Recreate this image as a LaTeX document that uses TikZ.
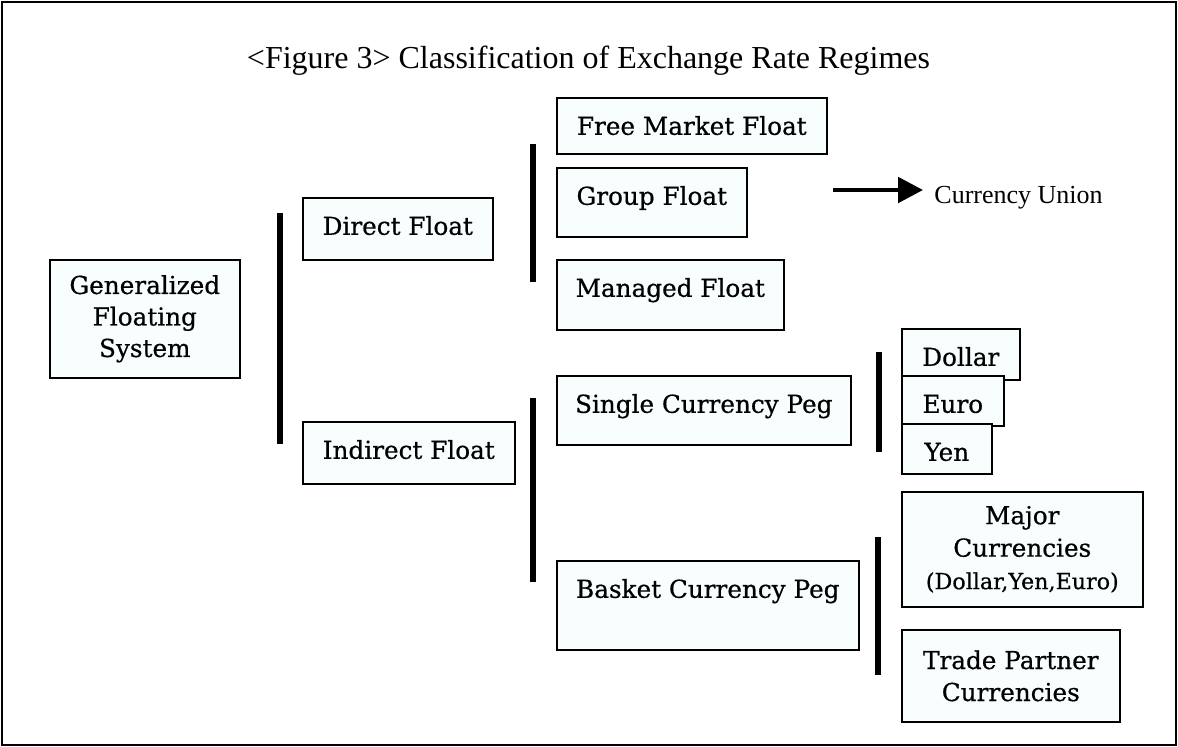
\documentclass[tikz,border=0pt]{standalone}
\usepackage{fontspec}
\setmainfont[FakeBold=0.6]{DejaVu Serif}
\newfontfamily\titlefont{Liberation Serif}
\usetikzlibrary{arrows.meta}
\definecolor{boxfill}{RGB}{248,254,254}
\tikzset{
  box/.style={draw, line width=0.8pt, fill=boxfill, anchor=north west, inner sep=0pt,
    font=\fontsize{12.35}{15.75}\selectfont},
  onebox/.style={box, text height=18.5pt, text depth=#1},
  bar/.style={line width=3pt},
}
\begin{document}
\begin{tikzpicture}[x=0.5pt, y=-0.5pt]
  \useasboundingbox (0,0) rectangle (1178,746);
  \draw[line width=0.75pt] (2,2) rectangle (1176,745);
  \node[anchor=base, font=\titlefont\fontsize{16}{19}\selectfont] (title) at (588.5,68) {<Figure 3> Classification of Exchange Rate Regimes};
  \node[box, minimum width=95pt, minimum height=59pt, align=center] (gfs) at (49,259) {Generalized\\Floating\\System};
  \node[onebox=12.5pt, minimum width=95pt, minimum height=31pt] (direct) at (302,197) {Direct Float};
  \node[onebox=12.5pt, minimum width=106pt, minimum height=31pt] (indirect) at (302,421) {Indirect Float};
  \node[onebox=9.5pt, minimum width=135pt, minimum height=28pt] (free) at (556,97) {Free Market Float};
  \node[onebox=16pt, minimum width=95pt, minimum height=34.5pt] (group) at (556,167) {Group Float};
  \node[onebox=16.5pt, minimum width=113.5pt, minimum height=35pt] (managed) at (556,259) {Managed Float};
  \node[onebox=16pt, minimum width=147pt, minimum height=34.5pt] (single) at (556,375) {Single Currency Peg};
  \node[onebox=26pt, minimum width=151pt, minimum height=44.5pt] (basket) at (556,560) {Basket Currency Peg};
  \node[onebox=7pt, minimum width=59pt, minimum height=25.5pt] (dollar) at (901,328) {Dollar};
  \node[onebox=6.5pt, minimum width=51pt, minimum height=25pt] (euro) at (901,375) {Euro};
  \node[onebox=6.5pt, minimum width=45pt, minimum height=25pt] (yen) at (901,423) {Yen};
  \node[box, minimum width=120.5pt, minimum height=57.5pt, align=center, font=\fontsize{12.35}{16.25}\selectfont] (major) at (901,491) {Major\\Currencies\\{\fontsize{11.1}{16.25}\selectfont (Dollar,Yen,Euro)}};
  \node[box, minimum width=109pt, minimum height=46pt, align=center, font=\fontsize{12.35}{16}\selectfont] (trade) at (901,629) {Trade Partner\\Currencies};
  \draw[bar] (280,213) -- (280,444);
  \draw[bar] (533,144) -- (533,282);
  \draw[bar] (533,398) -- (533,582);
  \draw[bar] (879,352) -- (879,452);
  \draw[bar] (878,537) -- (878,675);
  \node[anchor=base west, inner sep=0pt, font=\titlefont\fontsize{13}{15}\selectfont] (union) at (934,203) {Currency Union};
  \coordinate (groupout) at (833,190);
  \draw[line width=2pt, -{Triangle[length=12.5pt, width=12.7pt]}, shorten >=5.5pt] (groupout) -- (groupout -| union.west);
\end{tikzpicture}
\end{document}
